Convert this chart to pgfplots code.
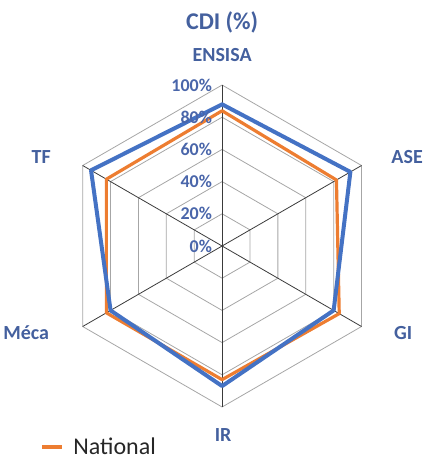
\documentclass[border=0pt]{standalone}
\usepackage{pgfplots}
\pgfplotsset{compat=1.18}
\usepackage{fontspec}
\setmainfont{Carlito}
\definecolor{cblue}{HTML}{4472C4}
\definecolor{corange}{HTML}{ED7D31}
\definecolor{ctext}{HTML}{44609E}
\definecolor{ctick}{HTML}{4A66AA}
\definecolor{ring}{HTML}{A6A6A6}
\definecolor{spoke}{HTML}{3A3A3A}
\begin{document}
\begin{tikzpicture}
\begin{axis}[
  scale only axis, width=438pt, height=472pt,
  xmin=-137.89, xmax=134.16, ymin=-140.37, ymax=152.80,
  hide axis, clip=false,
  legend style={at={(axis cs:-113,-124.8)}, anchor=west, draw=none, fill=none,
    inner sep=0pt, font=\fontsize{24}{24}\selectfont, text=black!85},
  legend image code/.code={\draw[#1, line cap=butt, line width=4pt] (0pt,0pt) -- (20pt,0pt);\path[draw=none, fill=none] (29pt,0pt) circle (0pt);},
]
% invisible frame so that the picture keeps the full size
\path (rel axis cs:0,0) rectangle (rel axis cs:1,1);
% rings
\addplot[ring, line width=0.8pt, data cs=polar, forget plot, line join=miter] coordinates {(90,20)(30,20)(-30,20)(-90,20)(-150,20)(150,20)(90,20)(30,20)};
\addplot[ring, line width=0.8pt, data cs=polar, forget plot, line join=miter] coordinates {(90,40)(30,40)(-30,40)(-90,40)(-150,40)(150,40)(90,40)(30,40)};
\addplot[ring, line width=0.8pt, data cs=polar, forget plot, line join=miter] coordinates {(90,60)(30,60)(-30,60)(-90,60)(-150,60)(150,60)(90,60)(30,60)};
\addplot[ring, line width=0.8pt, data cs=polar, forget plot, line join=miter] coordinates {(90,80)(30,80)(-30,80)(-90,80)(-150,80)(150,80)(90,80)(30,80)};
\addplot[ring, line width=0.8pt, data cs=polar, forget plot, line join=miter] coordinates {(90,100)(30,100)(-30,100)(-90,100)(-150,100)(150,100)(90,100)(30,100)};
% spokes
\addplot[spoke, line width=0.8pt, data cs=polar, forget plot] coordinates {(90,0)(90,100)};
\addplot[spoke, line width=0.8pt, data cs=polar, forget plot] coordinates {(30,0)(30,100)};
\addplot[spoke, line width=0.8pt, data cs=polar, forget plot] coordinates {(-30,0)(-30,100)};
\addplot[spoke, line width=0.8pt, data cs=polar, forget plot] coordinates {(-90,0)(-90,100)};
\addplot[spoke, line width=0.8pt, data cs=polar, forget plot] coordinates {(-150,0)(-150,100)};
\addplot[spoke, line width=0.8pt, data cs=polar, forget plot] coordinates {(150,0)(150,100)};
% series
\addplot[corange, line width=3.2pt, line join=round, line cap=round, data cs=polar] coordinates {(90,84)(30,82)(-30,84)(-90,83)(-150,83)(150,83)(90,84)};
\addlegendentry{National}
\addplot[cblue, line width=4pt, line join=round, line cap=round, data cs=polar, forget plot] coordinates {(90,88)(30,92)(-30,80)(-90,87)(-150,80)(150,94)(90,88)};
% tick labels
\foreach \r in {0,20,40,60,80,100}{
  \edef\temp{\noexpand\node[anchor=east, text=ctick, font=\noexpand\fontsize{18}{18}\noexpand\selectfont\noexpand\bfseries, inner sep=0pt] at (axis cs:-6.2,\r) {\r\noexpand\%};}
  \temp
}
% category labels
\node[text=ctext, font=\fontsize{24}{24}\selectfont\bfseries] at (axis cs:0,139.1) {CDI (\%)};
\node[text=ctext, font=\fontsize{20}{20}\selectfont\bfseries] at (axis cs:0,118.6) {ENSISA};
\node[text=ctext, font=\fontsize{20}{20}\selectfont\bfseries] at (axis cs:114.9,55.3) {ASE};
\node[text=ctext, font=\fontsize{20}{20}\selectfont\bfseries] at (axis cs:112.4,-54.0) {GI};
\node[text=ctext, font=\fontsize{20}{20}\selectfont\bfseries] at (axis cs:0.6,-117.4) {IR};
\node[text=ctext, font=\fontsize{20}{20}\selectfont\bfseries] at (axis cs:-121.7,-54.0) {Méca};
\node[text=ctext, font=\fontsize{20}{20}\selectfont\bfseries] at (axis cs:-112.4,55.3) {TF};
\end{axis}
\end{tikzpicture}
\end{document}
